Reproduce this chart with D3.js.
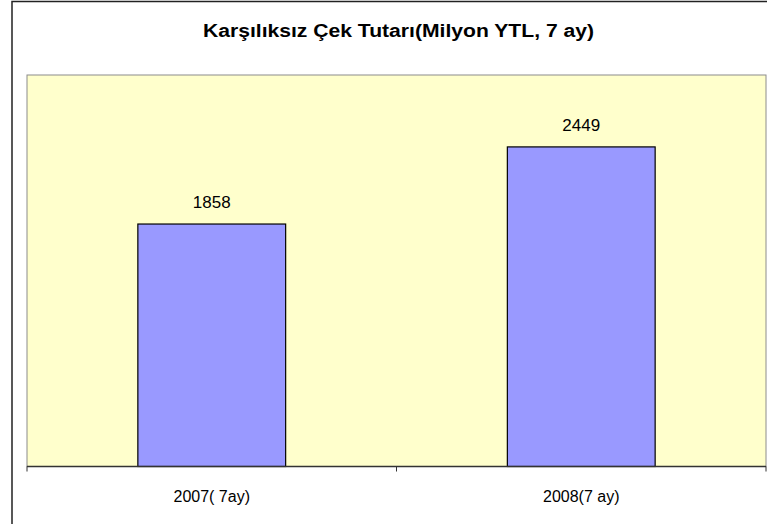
<!DOCTYPE html>
<html>
<head>
<meta charset="utf-8">
<script src="https://cdn.jsdelivr.net/npm/d3@7"></script>
<style>
html,body{margin:0;padding:0;background:#fff;}
svg{display:block;}
text{font-family:"Liberation Sans",Arial,sans-serif;fill:#000;}
</style>
</head>
<body>
<svg id="chart" width="767" height="524"></svg>
<script>
// data
const title = 'Karşılıksız Çek Tutarı(Milyon YTL, 7 ay)';
const categories = ['2007( 7ay)', '2008(7 ay)'];
const values = [1858, 2449];
const yDomain = [0, 3000];

const W = 767, H = 524;
const plot = {left: 27, top: 75, right: 766, bottom: 466.5};

const svg = d3.select('#chart');

// outer chart border (right/bottom fall outside the picture)
svg.append('rect')
  .attr('x', 12).attr('y', 1.5)
  .attr('width', 800).attr('height', 600)
  .attr('fill', '#fff').attr('stroke', '#222').attr('stroke-width', 1.5);

svg.append('text')
  .attr('x', 398.5).attr('y', 37)
  .attr('text-anchor', 'middle')
  .attr('font-size', 18).attr('font-weight', 'bold')
  .attr('textLength', 391).attr('lengthAdjust', 'spacingAndGlyphs')
  .text(title);

const x = d3.scaleBand().domain(categories).range([plot.left, plot.right]).paddingInner(0.6).paddingOuter(0.3);
const y = d3.scaleLinear().domain(yDomain).range([plot.bottom, plot.top]);

// plot area
svg.append('rect')
  .attr('x', plot.left).attr('y', plot.top)
  .attr('width', plot.right - plot.left).attr('height', plot.bottom - plot.top)
  .attr('fill', '#FFFFCC').attr('stroke', '#8c8c8c').attr('stroke-width', 1);

// bars
svg.selectAll('rect.bar').data(values).join('rect')
  .attr('class', 'bar')
  .attr('x', (d, i) => x(categories[i]))
  .attr('y', d => y(d))
  .attr('width', x.bandwidth())
  .attr('height', d => y(0) - y(d))
  .attr('fill', '#9999FF').attr('stroke', '#000').attr('stroke-width', 1.2);

// value labels
svg.selectAll('text.val').data(values).join('text')
  .attr('class', 'val')
  .attr('x', (d, i) => x(categories[i]) + x.bandwidth() / 2)
  .attr('y', d => y(d) - 16)
  .attr('text-anchor', 'middle')
  .attr('font-size', 17)
  .text(d => d);

// x axis
const xAxisScale = d3.scalePoint().domain([0, 1, 2]).range([plot.left, plot.right]);
svg.append('line')
  .attr('x1', plot.left).attr('x2', plot.right)
  .attr('y1', plot.bottom).attr('y2', plot.bottom)
  .attr('stroke', '#333').attr('stroke-width', 1.3);
svg.selectAll('line.tick').data(xAxisScale.domain()).join('line')
  .attr('class', 'tick')
  .attr('x1', d => xAxisScale(d)).attr('x2', d => xAxisScale(d))
  .attr('y1', plot.bottom).attr('y2', plot.bottom + 5)
  .attr('stroke', '#333').attr('stroke-width', 1);

svg.selectAll('text.cat').data(categories).join('text')
  .attr('class', 'cat')
  .attr('x', d => x(d) + x.bandwidth() / 2)
  .attr('y', 502)
  .attr('text-anchor', 'middle')
  .attr('font-size', 16)
  .text(d => d);
</script>
</body>
</html>
